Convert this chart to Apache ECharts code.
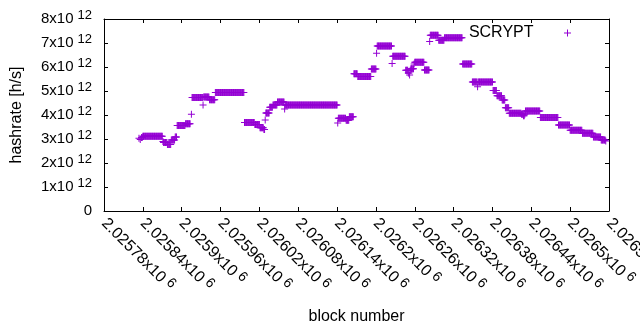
<!DOCTYPE html>
<html>
<head>
<meta charset="utf-8">
<script src="https://cdn.jsdelivr.net/npm/echarts@6.0.0/dist/echarts.min.js"></script>
<style>
  html, body { margin: 0; padding: 0; background: #fff; }
  #chart { width: 640px; height: 330px; }
</style>
</head>
<body>
<div id="chart"></div>
<script>
  // hashrate is constant over runs of blocks, so the data is kept as runs
  // runStart / runEnd: block numbers (inclusive), runValue: hashrate in units of 10^12 h/s
  let runStart = [2025834, 2025836, 2025838, 2025840, 2025871, 2025872, 2025878, 2025884, 2025890, 2025893,
    2025906, 2025915, 2025916, 2025933, 2025934, 2025943, 2025952, 2025997, 2026013, 2026021,
    2026027, 2026029, 2026030, 2026036, 2026041, 2026048, 2026059, 2026060, 2026141, 2026142,
    2026154, 2026159, 2026166, 2026172, 2026193, 2026201, 2026202, 2026225, 2026226, 2026246,
    2026250, 2026252, 2026253, 2026254, 2026259, 2026260, 2026275, 2026283, 2026284, 2026297,
    2026306, 2026334, 2026349, 2026357, 2026358, 2026381, 2026387, 2026395, 2026400, 2026406,
    2026425, 2026428, 2026430, 2026431, 2026454, 2026482, 2026500, 2026519, 2026536, 2026548,
    2026555];
  let runEnd = [2025834, 2025836, 2025839, 2025870, 2025871, 2025877, 2025883, 2025889, 2025892, 2025905,
    2025913, 2025915, 2025932, 2025933, 2025942, 2025951, 2025996, 2026012, 2026020, 2026026,
    2026028, 2026029, 2026035, 2026040, 2026047, 2026058, 2026059, 2026140, 2026141, 2026153,
    2026158, 2026165, 2026171, 2026192, 2026200, 2026201, 2026224, 2026225, 2026245, 2026249,
    2026251, 2026252, 2026253, 2026258, 2026259, 2026274, 2026282, 2026283, 2026296, 2026305,
    2026333, 2026348, 2026356, 2026357, 2026380, 2026386, 2026394, 2026399, 2026405, 2026424,
    2026427, 2026429, 2026430, 2026453, 2026481, 2026499, 2026518, 2026535, 2026547, 2026554,
    2026555];
  let runValue = [3.03, 2.98, 3.06, 3.11, 2.9, 2.85, 2.77, 2.96, 3.08, 3.56,
    3.64, 4.03, 4.73, 4.42, 4.75, 4.64, 4.94, 3.69, 3.6, 3.47,
    3.4, 3.79, 4.08, 4.32, 4.42, 4.54, 4.25, 4.42, 3.67, 3.86,
    3.78, 3.93, 5.72, 5.6, 5.92, 6.57, 6.87, 6.15, 6.45, 5.86,
    5.75, 5.67, 5.86, 5.93, 6.12, 6.2, 5.87, 7.06, 7.32, 7.11,
    7.22, 6.12, 5.38, 5.18, 5.38, 5.02, 4.8, 4.62, 4.3, 4.07,
    4.03, 3.97, 4.03, 4.17, 3.9, 3.58, 3.36, 3.24, 3.08, 2.96,
    2.92];

  let seriesName = 'SCRYPT';

  let points = [];
  runStart.forEach((start, i) => {
    for (let b = start; b <= runEnd[i]; b++) {
      points.push([b, runValue[i]]);
    }
  });

  const plus = 'path://M0,3H7V4H0Z M3,0H4V7H3Z';
  const font = 'Liberation Sans';

  let xAxisBase = {
    type: 'value',
    min: 2025780,
    max: 2026560,
    interval: 60,
    splitLine: { show: false },
    axisLine: { show: true, onZero: false, lineStyle: { color: '#000', width: 1 } },
    axisTick: { show: true, inside: true, length: 4, lineStyle: { color: '#000' } },
  };
  let yAxisBase = {
    type: 'value',
    min: 0,
    max: 8,
    interval: 1,
    splitLine: { show: false },
    axisLine: { show: true, onZero: false, lineStyle: { color: '#000', width: 1 } },
    axisTick: { show: true, inside: true, length: 4, lineStyle: { color: '#000' } },
  };

  let option = {
    animation: false,
    backgroundColor: '#fff',
    color: ['#9400D3'],
    textStyle: { fontFamily: font },
    grid: { left: 104, right: 31, top: 19, bottom: 119, containLabel: false, outerBoundsMode: 'none' },
    legend: {
      show: true,
      data: [seriesName],
      right: 64,
      top: 20,
      align: 'right',
      icon: plus,
      itemWidth: 58,
      itemHeight: 7,
      textStyle: { fontFamily: font, fontSize: 16, color: '#000' }
    },
    xAxis: [Object.assign({}, xAxisBase, {
      position: 'bottom',
      name: 'block number',
      nameLocation: 'middle',
      nameGap: 98,
      nameTextStyle: { fontFamily: font, fontSize: 16, color: '#000' },
      axisLabel: {
        show: true,
        rotate: -45,
        margin: 10,
        fontFamily: font,
        fontSize: 16,
        color: '#000',
        showMinLabel: true,
        showMaxLabel: true,
        hideOverlap: false,
        formatter: v => +(v / 1e6).toFixed(5) + 'x10{s|6}',
        rich: {
          s: { fontFamily: font, fontSize: 14, color: '#000', verticalAlign: 'top', padding: [0, 0, 7, 4] }
        }
      }
    }), Object.assign({}, xAxisBase, {
      position: 'top',
      axisLabel: { show: false }
    })],
    yAxis: [Object.assign({}, yAxisBase, {
      position: 'left',
      name: 'hashrate [h/s]',
      nameLocation: 'middle',
      nameGap: 79,
      nameTextStyle: { fontFamily: font, fontSize: 16, color: '#000' },
      axisLabel: {
        show: true,
        margin: 12,
        fontFamily: font,
        fontSize: 15,
        color: '#000',
        formatter: v => v === 0 ? '0' : v + 'x10{s|12}',
        rich: {
          s: { fontFamily: font, fontSize: 13, color: '#000', verticalAlign: 'top', padding: [0, 0, 7, 4] }
        }
      }
    }), Object.assign({}, yAxisBase, {
      position: 'right',
      axisLabel: { show: false }
    })],
    series: [{
      name: seriesName,
      type: 'scatter',
      symbol: plus,
      symbolSize: 7,
      data: points,
      itemStyle: { color: '#9400D3', opacity: 1 },
      emphasis: { disabled: true }
    }]
  };

  let chart = echarts.init(document.getElementById('chart'), null, { renderer: 'canvas' });
  chart.setOption(option);
  window.addEventListener('resize', function() {
    chart.resize();
  });
</script>
</body>
</html>
